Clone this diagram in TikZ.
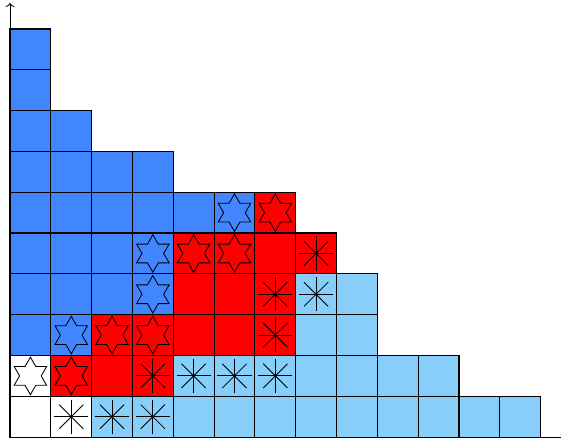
\documentclass[tikz,border=0pt]{standalone}
\usepackage{tikz}
\usetikzlibrary{arrows.meta}

\definecolor{cB}{RGB}{66,134,255}
\definecolor{cR}{RGB}{255,0,0}
\definecolor{cL}{RGB}{135,206,250}
\definecolor{cW}{RGB}{255,255,255}

\newcommand{\youngrows}{0/{W,W,L,L,L,L,L,L,L,L,L,L,L},
                        1/{W,R,R,R,L,L,L,L,L,L,L},
                        2/{B,B,R,R,R,R,R,L,L},
                        3/{B,B,B,B,R,R,R,L,L},
                        4/{B,B,B,B,R,R,R,R},
                        5/{B,B,B,B,B,B,R},
                        6/{B,B,B,B},
                        7/{B,B},
                        8/{B},
                        9/{B}}

\begin{document}
\begin{tikzpicture}[x=1cm, y=1cm,
    cell/.style = {draw, line width=0.8pt},
    sixstar/.pic = {\draw[line width=0.6pt, line join=miter] (90:0.46) \foreach \a in {120,180,...,420}{ -- (\a:0.265) -- (\a+30:0.46)} -- cycle;},
    spokes/.pic = {\foreach \a in {0,45,90,135} \draw[line width=0.6pt] (\a:0.42) -- (\a+180:0.42);
                   \fill (0,0) circle (0.03);}]
    \useasboundingbox (-0.245,-0.12) rectangle (13.5,10.71);

    % cells, row by row from the bottom: fill first, borders after
    \foreach \r/\row in \youngrows
        \foreach \c [count=\x from 0] in \row
            \fill[c\c] (\x,\r) rectangle ++(1,1);
    \foreach \r/\row in \youngrows
        \foreach \c [count=\x from 0] in \row
            \draw[cell] (\x,\r) rectangle ++(1,1);

    % stars
    \foreach \x/\y in {0/1,1/1,1/2,2/2,3/2,3/3,3/4,4/4,5/4,5/5,6/5}
        \pic at (\x+0.5,\y+0.5) {sixstar};

    % spokes
    \foreach \x/\y in {1/0,2/0,3/0,3/1,4/1,5/1,6/1,6/2,6/3,7/3,7/4}
        \pic at (\x+0.5,\y+0.5) {spokes};

    % axes
    \coordinate (O) at (0,0);
    \coordinate (xend) at (13.5,0);
    \coordinate (yend) at (0,10.64);
    \draw[line width=0.6pt] (O) -- (xend);
    \draw[line width=0.6pt, ->] (O) -- (yend);
\end{tikzpicture}
\end{document}
